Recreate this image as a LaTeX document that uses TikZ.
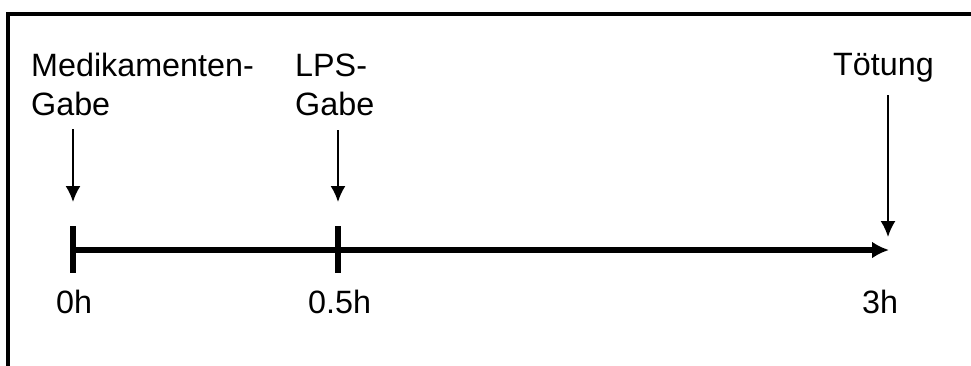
\documentclass[tikz,border=0pt]{standalone}
\usepackage{fontspec}
\setmainfont{Liberation Sans}
\usetikzlibrary{arrows.meta}
\tikzset{
  lbl/.style={anchor=base west, inner sep=0pt, font=\fontsize{32.3}{38}\selectfont},
  frameline/.style={line width=4pt, line join=miter},
  tickline/.style={line width=6.5pt, line cap=butt},
  mainline/.style={line width=5.5pt, -{Latex[length=17pt,width=17pt]}},
  evarrow/.style={line width=2pt, -{Latex[length=16pt,width=15pt]}}
}
\begin{document}
\begin{tikzpicture}[x=1pt,y=-1pt]
\useasboundingbox (0,0) rectangle (971,365);
\clip (0,0) rectangle (971,365);
% frame
\draw[frameline] (8,380) -- (8,14) -- (990,14);
% labels
\node[lbl] (med1) at (31,76) {Medikamenten-};
\node[lbl] (med2) at (31,115) {Gabe};
\node[lbl] (lps1) at (295,76) {LPS-};
\node[lbl] (lps2) at (295,115) {Gabe};
\node[lbl] (toet) at (833,75) {Tötung};
\node[lbl] (t0) at (56,313) {0h};
\node[lbl] (t05) at (308,313) {0.5h};
\node[lbl] (t3) at (862,313) {3h};
% timeline coordinates
\coordinate (c0) at (73,250);
\coordinate (c05) at (338,250);
\coordinate (cend) at (889,250);
\coordinate (k0top) at (73,226);
\coordinate (k0bot) at (73,273);
\coordinate (k05top) at (338,226);
\coordinate (k05bot) at (338,273);
% arrow coordinates
\coordinate (a0s) at (73,129);
\coordinate (a0e) at (73,202);
\coordinate (a05s) at (338,130);
\coordinate (a05e) at (338,202);
\coordinate (a3s) at (888,95);
\coordinate (a3e) at (888,237);
% timeline
\draw[mainline] (c0) -- (cend);
\draw[tickline] (k0top) -- (k0bot);
\draw[tickline] (k05top) -- (k05bot);
% event arrows
\draw[evarrow] (a0s) -- (a0e);
\draw[evarrow] (a05s) -- (a05e);
\draw[evarrow] (a3s) -- (a3e);
\end{tikzpicture}
\end{document}
